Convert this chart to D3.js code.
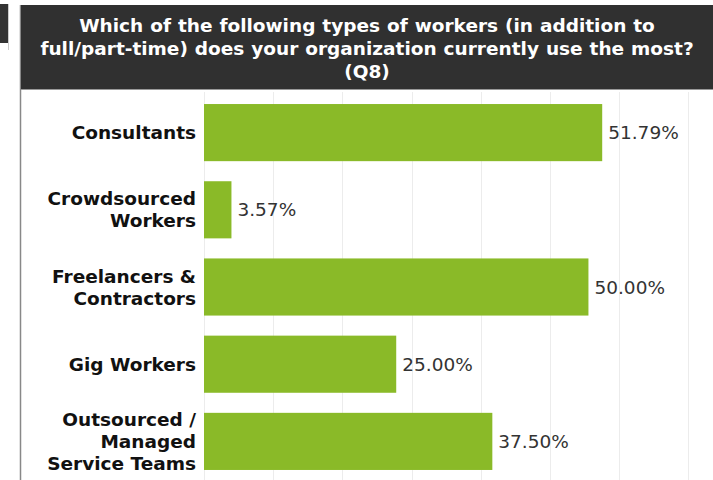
<!DOCTYPE html>
<html>
<head>
<meta charset="utf-8">
<script src="https://cdn.jsdelivr.net/npm/d3@7"></script>
<style>
  body { margin: 0; background: #fff; }
  svg { display: block; font-family: Verdana, "DejaVu Sans", sans-serif; }
</style>
</head>
<body>
<div id="chart"></div>
<script>
// chart data
const titleLines = [
  'Which of the following types of workers (in addition to',
  'full/part-time) does your organization currently use the most?',
  '(Q8)'
];
const categories = [
  ['Consultants'],
  ['Crowdsourced', 'Workers'],
  ['Freelancers &', 'Contractors'],
  ['Gig Workers'],
  ['Outsourced /', 'Managed', 'Service Teams']
];
const values = [51.79, 3.57, 50.00, 25.00, 37.50];
const gridTicks = [0, 9, 18, 27, 36, 45, 54, 63];

const width = 713, height = 480;

const svg = d3.select('#chart').append('svg')
  .attr('width', width)
  .attr('height', height);

// little dark tab on the far left
svg.append('rect')
  .attr('x', 0).attr('y', 4)
  .attr('width', 8).attr('height', 39)
  .attr('fill', '#333');
svg.append('line')
  .attr('x1', 8.5).attr('x2', 8.5)
  .attr('y1', 4).attr('y2', 50)
  .attr('stroke', '#ccc');

// panel border
svg.append('line')
  .attr('x1', 20.5).attr('x2', 20.5)
  .attr('y1', 5).attr('y2', height)
  .attr('stroke', '#888')
  .attr('stroke-width', 1.5);

// title header
svg.append('rect')
  .attr('x', 21).attr('y', 5)
  .attr('width', width - 21).attr('height', 84)
  .attr('fill', '#303030');
svg.append('line')
  .attr('x1', 21).attr('x2', width)
  .attr('y1', 89.5).attr('y2', 89.5)
  .attr('stroke', '#999');

svg.append('g')
  .selectAll('text')
  .data(titleLines)
  .enter().append('text')
  .attr('x', 367)
  .attr('y', (d, i) => 32 + i * 23)
  .attr('text-anchor', 'middle')
  .attr('fill', '#fff')
  .style('font-size', '18.5px')
  .style('font-weight', 'bold')
  .style('word-spacing', '0.5px')
  .text(d => d);

// scales
const x = d3.scaleLinear()
  .domain([0, 66.2])
  .range([204, width]);

const y = d3.scaleBand()
  .domain(d3.range(categories.length))
  .range([94, height])
  .paddingInner(0.26)
  .paddingOuter(0.13);

// gridlines
svg.append('g')
  .selectAll('line')
  .data(gridTicks)
  .enter().append('line')
  .attr('x1', d => Math.round(x(d)) + 0.5)
  .attr('x2', d => Math.round(x(d)) + 0.5)
  .attr('y1', 92)
  .attr('y2', height)
  .attr('stroke', '#ececec');

// bars
svg.append('g')
  .selectAll('rect')
  .data(values)
  .enter().append('rect')
  .attr('x', x(0))
  .attr('y', (d, i) => y(i))
  .attr('width', d => x(d) - x(0))
  .attr('height', y.bandwidth())
  .attr('fill', '#8aba28');

// value labels
svg.append('g')
  .selectAll('text')
  .data(values)
  .enter().append('text')
  .attr('x', d => x(d) + 6)
  .attr('y', (d, i) => y(i) + y.bandwidth() / 2)
  .attr('dy', '0.36em')
  .attr('fill', '#333')
  .style('font-size', '18.5px')
  .text(d => d.toFixed(2) + '%');

// category labels
const lineH = 22;
const labels = svg.append('g')
  .selectAll('text')
  .data(categories)
  .enter().append('text')
  .attr('text-anchor', 'end')
  .attr('fill', '#111')
  .style('font-size', '18.5px')
  .style('font-weight', 'bold');

labels.each(function(lines, i) {
  const cy = y(i) + y.bandwidth() / 2;
  const top = cy - (lines.length - 1) * lineH / 2;
  d3.select(this).selectAll('tspan')
    .data(lines)
    .enter().append('tspan')
    .attr('x', 196)
    .attr('y', (d, j) => top + j * lineH)
    .attr('dy', '0.36em')
    .text(d => d);
});
</script>
</body>
</html>
